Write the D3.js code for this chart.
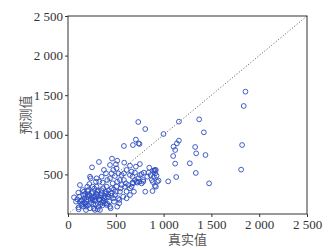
<!DOCTYPE html>
<html><head><meta charset="utf-8">
<script src="https://cdn.jsdelivr.net/npm/d3@7"></script>
<style>body{margin:0;background:#fff}svg{display:block}</style>
</head><body>
<script>
const xTicks = [0, 500, 1000, 1500, 2000, 2500];
const yTicks = [500, 1000, 1500, 2000, 2500];
const xLabel = "真实值";
const yLabel = "预测值";
const actual = [63,84,97,118,125,108,125,139,111,111,146,160,178,188,188,167,202,212,202,230,237,223,251,247,258,265,282,292,299,306,320,334,341,320,352,362,369,376,386,397,404,411,421,432,439,449,456,467,474,481,491,501,508,515,526,536,543,550,561,578,585,595,606,613,630,648,665,675,682,689,700,717,735,752,770,648,613,446,334,404,282,230,195,153,439,456,474,491,397,376,352,327,299,258,275,508,543,526,561,585,613,648,675,700,724,745,787,808,787,829,843,864,877,888,898,905,912,919,926,933,909,919,947,884,770,794,735,808,710,738,679,748,585,460,324,515,588,501,439,648,752,710,665,850,891,909,515,536,1856,1838,1821,1811,1476,1372,1421,1438,1330,1341,1337,1274,1160,1160,1139,1104,1121,1100,1121,1132,1048,999,
  150,172,195,215,240,262,285,305,330,355,378,400,425,160,185,210,235,260,290,315,345,370,395,420,180,205,228,252,275,300,325,350,375,140,270,310,360,410,455,480];
const predicted = [210,156,185,219,366,269,156,114,84,59,177,240,135,93,51,282,219,303,345,471,450,379,589,261,177,126,219,408,345,282,219,177,126,93,261,396,324,198,135,282,345,429,219,156,93,261,324,387,198,156,240,282,345,408,198,135,282,324,366,219,429,345,387,282,366,324,345,396,387,282,429,408,450,492,387,240,198,72,51,114,51,72,185,303,450,513,556,480,513,556,471,408,450,345,177,577,429,513,492,513,556,492,471,522,396,408,408,282,429,471,522,492,429,404,471,547,513,556,484,408,354,345,421,290,505,522,1162,1073,939,892,871,884,859,699,657,673,648,627,619,610,631,598,535,585,547,556,93,177,1545,1364,871,560,387,1195,1031,745,846,766,518,640,1166,926,892,850,808,732,636,467,412,1010,
  130,195,160,250,140,205,165,240,180,150,230,260,300,95,120,110,180,280,120,300,235,170,210,250,250,290,230,200,320,255,190,300,160,170,70,60,110,130,230,310];

const W = 331, H = 250;
const m = {left: 68, right: 307, top: 16, bottom: 214};
const svg = d3.select("body").append("svg").attr("width", W).attr("height", H);
const x = d3.scaleLinear().domain([0, 2500]).range([m.left, m.right]);
const y = d3.scaleLinear().domain([0, 2500]).range([m.bottom, m.top]);
const serif = "'Liberation Serif','DejaVu Serif',serif";

svg.append("line")
  .attr("x1", x(0)).attr("y1", y(0)).attr("x2", x(2500)).attr("y2", y(2500))
  .attr("stroke", "#555").attr("stroke-width", 1).attr("stroke-dasharray", "1,2");

svg.append("g").selectAll("circle").data(actual.map((a, i) => [a, predicted[i]])).join("circle")
  .attr("cx", d => x(d[0])).attr("cy", d => y(d[1])).attr("r", 2.4)
  .attr("fill", "none").attr("stroke", "#2b4cc0").attr("stroke-width", 0.9);

svg.append("rect").attr("x", m.left).attr("y", m.top)
  .attr("width", m.right - m.left).attr("height", m.bottom - m.top)
  .attr("fill", "none").attr("stroke", "#333").attr("stroke-width", 1);

const fmt = d => d >= 1000 ? Math.floor(d / 1000) + " " + String(d % 1000).padStart(3, "0") : String(d);

const xa = svg.append("g").attr("transform", `translate(0,${m.bottom})`)
  .call(d3.axisBottom(x).tickValues(xTicks).tickSize(3).tickPadding(3).tickFormat(fmt));
const ya = svg.append("g").attr("transform", `translate(${m.left},0)`)
  .call(d3.axisLeft(y).tickValues(yTicks).tickSize(3).tickPadding(2).tickFormat(fmt));
[xa, ya].forEach(g => {
  g.select(".domain").remove();
  g.selectAll("line").attr("stroke", "#333");
  g.selectAll("text").attr("font-family", serif).attr("font-size", 13).attr("fill", "#333");
});

svg.append("text").attr("x", (m.left + m.right) / 2).attr("y", 244)
  .attr("text-anchor", "middle").attr("font-family", "'Noto Sans CJK SC'")
  .attr("font-size", 13).attr("fill", "#555").text(xLabel);
svg.append("text").attr("transform", `translate(30,${(m.top + m.bottom) / 2}) rotate(-90)`)
  .attr("text-anchor", "middle").attr("font-family", "'Noto Sans CJK SC'")
  .attr("font-size", 13).attr("fill", "#555").text(yLabel);
</script>
</body></html>
